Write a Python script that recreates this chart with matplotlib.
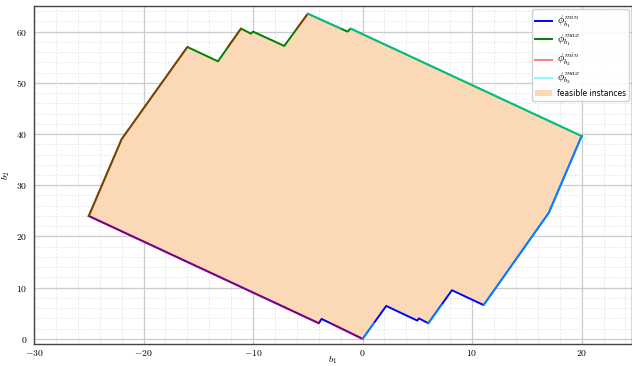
import matplotlib
matplotlib.use("Agg")
import matplotlib.pyplot as plt
from matplotlib.ticker import AutoMinorLocator, FuncFormatter, MultipleLocator

plt.rcParams['mathtext.fontset'] = 'cm'

# boundary of the feasible set, upper chain (left -> right)
upper_b1 = [-25.0, -22.0, -16.0, -13.2, -11.1, -10.2, -10.0, -7.15, -5.0, -1.37, -1.1, 20.0]
upper_b2 = [24.0, 39.0, 57.0, 54.2, 60.6, 59.6, 60.0, 57.2, 63.5, 60.0, 60.6, 39.6]

# lower chain (left -> right)
lower_b1 = [-25.0, -4.0, -3.74, 0.0, 2.16, 5.0, 5.15, 6.0, 8.16, 11.05, 17.0, 20.0]
lower_b2 = [24.0, 3.06, 3.9, 0.0, 6.43, 3.57, 4.0, 3.05, 9.5, 6.6, 24.6, 39.6]

# phi_b2^min pieces (left envelope, split at its jumps)
b2min_pieces = [
    ([0.0, -2.93], [0.0, 3.06]),
    ([-4.0, -25.0, -22.0, -16.0], [3.06, 24.0, 39.0, 57.0]),
    ([-12.3, -11.1], [57.0, 60.6]),
    ([-6.0, -5.0], [60.6, 63.5]),
]

# phi_b2^max pieces (right envelope)
b2max_pieces = [
    ([0.0, 1.02], [0.0, 3.05]),
    ([6.0, 7.25], [3.05, 6.6]),
    ([11.05, 17.0, 20.0, -1.1], [6.6, 24.6, 39.6, 60.6]),
    ([-2.0, -5.0], [60.6, 63.5]),
]

fig = plt.figure(figsize=(6.32, 3.66), dpi=100)
ax = fig.add_axes([34 / 632, 22 / 366, 598 / 632, 338 / 366])

poly_b1 = upper_b1 + lower_b1[::-1]
poly_b2 = upper_b2 + lower_b2[::-1]
ax.fill(poly_b1, poly_b2, color='#fcd9b6', lw=0, zorder=1, label='feasible instances')

ax.plot(lower_b1, lower_b2, color='blue', lw=1.4, zorder=3, label=r'$\phi_{b_1}^{min}$')
ax.plot(upper_b1, upper_b2, color='green', lw=1.4, zorder=3, label=r'$\phi_{b_1}^{max}$')
for i, (xs, ys) in enumerate(b2min_pieces):
    ax.plot(xs, ys, color='red', alpha=0.5, lw=1.4, zorder=4,
            label=r'$\phi_{b_2}^{min}$' if i == 0 else None)
for i, (xs, ys) in enumerate(b2max_pieces):
    ax.plot(xs, ys, color='cyan', alpha=0.5, lw=1.4, zorder=4,
            label=r'$\phi_{b_2}^{max}$' if i == 0 else None)

ax.set_xlim(-30, 24.6)
ax.set_ylim(-1, 65)
ax.xaxis.set_major_locator(MultipleLocator(10))
ax.yaxis.set_major_locator(MultipleLocator(10))
ax.xaxis.set_minor_locator(AutoMinorLocator(5))
ax.yaxis.set_minor_locator(AutoMinorLocator(5))
fmt = FuncFormatter(lambda v, pos: r'$%g$' % v)
ax.xaxis.set_major_formatter(fmt)
ax.yaxis.set_major_formatter(fmt)
ax.tick_params(which='both', length=0, labelsize=7)
ax.tick_params(axis='x', pad=3)
ax.tick_params(axis='y', pad=5)

ax.grid(which='major', color='#cccccc', lw=0.9)
ax.grid(which='minor', color='#e2e2e2', lw=0.6, linestyle=(0, (2, 2)))
ax.set_axisbelow(True)
for s in ax.spines.values():
    s.set_color('#444444')
    s.set_linewidth(1.0)

ax.set_xlabel(r'$b_1$', fontsize=7)
ax.set_ylabel(r'$b_2$', fontsize=7)
ax.xaxis.set_label_coords(0.5, -0.03)
ax.yaxis.set_label_coords(-0.036, 0.5)

handles, labels = ax.get_legend_handles_labels()
order = [1, 2, 3, 4, 0]
leg = ax.legend([handles[i] for i in order], [labels[i] for i in order],
                loc='upper right', fontsize=5.5, handlelength=2.2, handletextpad=0.6,
                labelspacing=0.3, borderaxespad=0.4, framealpha=0.9)
for t in leg.get_texts()[:4]:
    t.set_fontsize(7.5)

fig.savefig('out.png', dpi=100)
